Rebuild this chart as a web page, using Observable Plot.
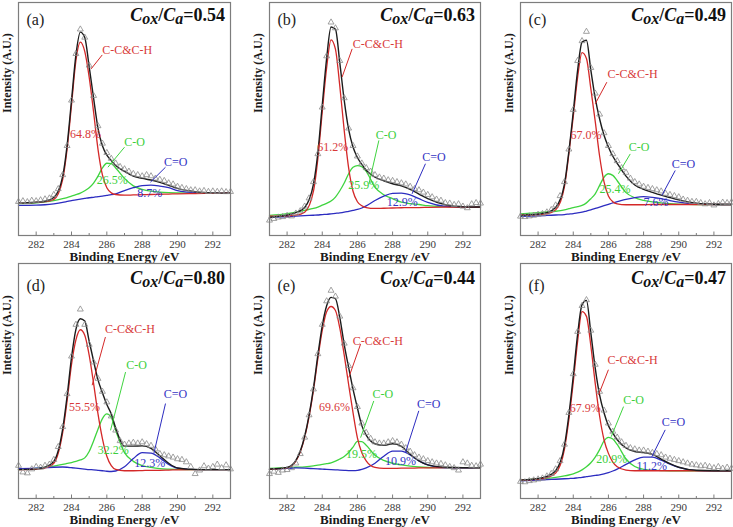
<!DOCTYPE html>
<html>
<head>
<meta charset="utf-8">
<script src="https://cdn.jsdelivr.net/npm/d3@7"></script>
<script src="https://cdn.jsdelivr.net/npm/@observablehq/plot@0.6"></script>
<style>
  html, body { margin: 0; padding: 0; background: #fff; }
  #fig { position: relative; width: 733px; height: 527px; overflow: hidden; background: #fff; }
  #fig > svg { position: absolute; }
</style>
</head>
<body>
<div id="fig"></div>
<script>
// ---------- data (values in % of panel height, energies in eV) ----------
const letters = ["a", "b", "c", "d", "e", "f"];
const ratioValues = ["0.54", "0.63", "0.49", "0.80", "0.44", "0.47"];
const majorTicks = [282, 284, 286, 288, 290, 292];
const minorTicks = [281, 283, 285, 287, 289, 291, 293];

const energies = [281, 282, 282.5, 283, 283.5, 283.75, 284, 284.25, 284.5, 284.75, 285, 285.25, 285.5, 285.75, 286, 286.25, 286.5, 287, 287.5, 288, 288.5, 289, 289.5, 290, 291, 292, 293];
const dataEnergies = [281, 281.25, 281.5, 281.75, 282, 282.25, 282.5, 282.75, 283, 283.25, 283.5, 283.75, 284, 284.25, 284.5, 284.75, 285, 285.25, 285.5, 285.75, 286, 286.25, 286.5, 286.75, 287, 287.25, 287.5, 287.75, 288, 288.25, 288.5, 288.75, 289, 289.25, 289.5, 289.75, 290, 290.25, 290.5, 290.75, 291, 291.25, 291.5, 291.75, 292, 292.25, 292.5, 292.75, 293];

const redA = [14.0,14.2,14.5,15.5,24.0,37.0,56.0,75.0,83.0,79.0,68.0,53.0,37.0,26.0,20.5,18.3,17.6,17.3,17.4,17.5,17.6,17.7,17.8,17.9,18.0,18.1,18.2];
const greenA = [13.7,14.0,14.4,15.0,15.8,16.3,16.9,17.5,18.2,19.2,20.5,22.5,25.5,29.0,31.0,30.8,29.0,24.5,21.3,19.8,19.0,18.6,18.4,18.3,18.2,18.2,18.2];
const blueA = [12.9,13.0,13.2,13.6,14.2,14.6,15.0,15.3,15.6,15.9,16.2,16.4,16.7,16.9,17.2,17.5,17.9,19.3,20.5,21.4,21.6,21.2,20.5,19.3,18.4,18.2,18.2];
const envA = [14.0,14.3,14.7,16.3,25.4,38.6,57.9,77.5,87.3,85.0,72.5,59.0,46.0,38.5,34.5,32.2,30.0,27.5,25.5,24.5,23.8,22.8,21.5,20.2,18.8,18.3,18.2];
const dataA = [14.5,14.8,14.4,15.0,14.8,15.2,15.6,16.0,17.5,20.0,26.0,38.5,58.0,78.0,88.5,85.0,73.0,60.0,47.0,39.5,35.5,33.0,31.0,29.5,28.5,27.5,26.5,26.0,25.5,26.0,25.5,24.5,24.0,23.5,22.5,22.0,21.0,20.5,20.0,19.5,19.5,19.0,19.2,18.8,19.0,18.8,19.0,18.7,18.8];

const redB = [8.3,8.4,8.7,10.0,19.0,33.0,53.0,72.0,84.0,80.0,64.0,45.0,29.0,19.0,14.5,12.8,12.0,11.6,11.7,11.8,11.9,12.0,12.0,12.1,12.2,12.2,12.2];
const greenB = [8.6,9.4,10.0,10.8,11.6,12.2,13.0,13.8,14.8,16.5,19.2,22.5,26.5,29.3,30.0,29.5,27.5,20.7,17.5,15.8,14.3,13.7,13.3,12.8,12.4,12.2,12.2];
const blueB = [7.9,8.1,8.3,8.5,8.7,8.8,9.0,9.1,9.3,9.5,9.7,10.0,10.4,10.8,11.2,11.8,12.7,15.0,16.9,18.1,18.2,17.4,15.8,14.2,12.5,12.2,12.2];
const envB = [7.8,8.8,9.8,12.0,22.0,35.5,56.0,76.0,89.5,88.5,74.0,58.0,45.5,38.0,33.5,30.5,28.0,25.0,23.5,22.2,21.3,19.8,17.8,15.8,13.2,12.3,12.2];
const dataB = [6.5,7.2,7.8,8.0,8.5,8.3,9.5,10.5,12.5,16.0,23.0,35.0,55.0,77.0,91.5,89.0,75.0,59.0,46.0,38.5,34.0,31.0,29.0,27.5,26.0,25.0,24.5,23.8,23.5,23.0,22.5,22.0,21.0,20.0,19.5,18.5,17.5,16.5,15.5,15.0,14.0,13.8,13.2,13.5,12.5,11.8,13.5,14.0,13.8];

const redC = [8.8,9.0,9.3,11.0,21.0,35.0,51.0,68.0,78.5,76.0,63.0,49.0,34.0,23.0,17.0,14.5,13.6,13.2,13.2,13.2,13.3,13.3,13.3,13.3,13.3,13.3,13.3];
const greenC = [9.3,9.8,10.1,10.4,11.0,11.5,12.0,12.4,12.9,14.0,15.8,17.9,21.5,25.0,26.5,25.8,23.5,18.4,16.2,15.1,14.4,14.0,13.7,13.5,13.3,13.3,13.3];
const blueC = [8.2,8.4,8.6,8.8,9.0,9.2,9.4,9.7,10.0,10.5,11.0,11.6,12.2,12.8,13.4,14.0,14.5,15.5,16.3,16.7,16.4,15.8,15.0,14.3,13.5,13.3,13.3];
const envC = [8.6,9.2,9.8,12.0,22.0,36.0,53.0,71.0,83.0,83.8,71.0,59.0,50.0,43.0,38.0,34.0,31.0,25.5,21.7,19.8,18.5,17.3,16.3,15.3,13.9,13.4,13.3];
const dataC = [8.2,8.0,8.3,8.6,9.0,9.3,10.0,11.0,13.0,17.0,23.0,37.0,54.0,75.0,83.5,87.5,72.0,61.0,52.0,44.0,38.5,35.0,32.0,29.0,27.0,24.5,23.0,22.0,21.0,20.5,20.0,19.5,19.0,18.0,17.5,17.0,16.5,15.5,15.0,14.5,14.5,14.0,13.5,14.0,13.0,13.6,14.2,14.0,14.3];

const redD = [12.3,12.5,13.0,15.0,28.0,41.5,57.0,67.5,71.8,69.5,61.0,49.0,36.0,25.5,18.0,14.0,12.4,11.8,11.8,11.9,12.0,12.0,12.1,12.2,12.3,12.3,12.3];
const greenD = [12.3,12.8,13.2,13.8,14.5,14.9,15.3,15.8,16.4,17.3,20.0,24.5,29.5,34.0,36.0,34.5,29.0,19.5,15.8,14.0,13.2,12.7,12.5,12.4,12.3,12.3,12.3];
const blueD = [12.7,12.9,13.1,13.3,13.4,13.3,13.1,12.9,12.7,12.5,12.3,12.2,12.0,11.8,11.6,11.5,11.7,13.5,17.0,19.5,19.3,17.3,14.5,12.9,12.3,12.3,12.3];
const envD = [12.3,12.6,13.3,15.8,29.5,43.5,60.0,72.0,76.5,75.5,67.0,58.5,50.5,45.0,40.0,36.0,30.0,22.3,22.3,22.4,21.3,18.2,15.0,13.0,12.4,12.3,12.3];
const dataD = [14.0,11.2,10.8,12.5,13.5,13.2,14.0,14.5,16.5,22.0,30.5,44.5,60.5,74.0,80.5,74.0,65.5,58.0,51.0,45.5,41.0,35.0,29.0,24.5,23.0,23.5,23.8,23.5,24.0,23.2,22.5,21.0,19.0,18.5,18.0,17.5,16.8,16.5,15.5,13.5,10.5,12.0,13.8,12.8,13.5,14.5,13.0,14.2,12.5];

const redE = [12.4,13.0,15.9,26.0,46.0,59.5,71.5,79.5,81.7,80.0,72.5,61.0,48.5,36.5,25.8,19.5,16.0,13.2,12.8,12.8,12.9,12.9,13.0,13.0,13.1,13.1,13.1];
const greenE = [12.8,13.1,13.3,13.5,13.9,14.2,14.5,14.8,15.2,15.9,16.8,17.9,19.6,21.9,24.3,24.2,22.7,18.4,16.2,15.0,14.3,13.8,13.4,13.2,13.1,13.1,13.1];
const blueE = [12.4,12.8,13.0,12.9,12.7,12.6,12.5,12.4,12.3,12.2,12.1,12.0,11.9,11.9,12.0,12.4,13.0,15.0,18.0,20.2,20.2,18.5,16.0,14.3,13.0,13.0,13.1];
const envE = [12.5,13.2,16.2,26.5,47.0,61.0,73.5,82.0,85.6,85.0,77.0,65.5,55.8,46.5,38.5,31.0,27.0,23.3,22.6,23.3,22.2,18.8,16.0,14.3,13.3,13.1,13.1];
const dataE = [10.5,11.5,11.0,12.0,12.2,13.0,15.0,19.0,26.0,35.5,46.5,61.5,74.0,84.0,88.5,86.0,77.5,66.0,56.5,47.0,39.0,32.0,28.0,25.5,24.0,23.5,23.5,24.0,24.5,24.0,23.0,21.5,20.0,18.5,17.5,16.8,16.0,15.5,15.0,14.8,14.2,13.5,13.0,12.0,15.5,15.0,14.0,13.8,14.5];

const redF = [7.8,8.3,8.9,10.8,21.0,33.5,49.5,67.0,79.5,77.5,65.0,49.0,35.0,25.0,19.2,15.5,13.5,12.1,11.8,11.8,11.8,11.8,11.8,11.8,11.8,11.8,11.8];
const greenF = [7.8,8.3,8.6,9.0,9.6,10.0,10.5,11.2,12.2,13.5,15.2,17.6,20.8,24.5,26.0,25.3,23.0,16.8,13.6,12.4,12.0,11.9,11.8,11.8,11.8,11.8,11.8];
const blueF = [7.5,7.8,8.0,8.2,8.4,8.5,8.6,8.8,9.0,9.3,9.5,9.8,10.1,10.5,11.0,11.7,12.5,14.5,16.4,17.6,17.6,16.3,14.6,13.2,11.9,11.8,11.8];
const envF = [7.8,8.5,9.4,11.8,22.5,35.5,52.0,70.0,82.5,84.3,70.5,55.5,44.0,36.5,31.0,27.8,25.0,21.5,20.0,19.5,18.8,16.8,14.8,13.3,12.0,11.8,11.8];
const dataF = [7.2,7.0,7.5,7.8,8.2,8.6,9.5,10.5,12.5,16.0,23.0,36.5,53.0,71.0,82.0,84.5,71.5,57.0,45.5,37.5,32.0,28.5,26.0,24.0,22.5,21.5,21.0,20.5,20.5,20.0,19.5,19.0,18.5,17.5,17.0,16.5,16.0,15.5,15.0,14.5,14.2,13.8,14.0,13.5,13.0,13.5,12.8,13.2,12.8];

// peak shares
const pctCC = ["64.8%", "61.2%", "67.0%", "55.5%", "69.6%", "67.9%"];
const pctCO = ["26.5%", "25.9%", "25.4%", "32.2%", "19.5%", "20.9%"];
const pctCdO = ["8.7%", "12.9%", "7.6%", "12.3%", "10.9%", "11.2%"];

// annotation anchors (energy, % height)
const ccLabelPos = [[285.74,79.7],[285.74,82.3],[285.95,69.4],[285.89,72.2],[285.74,67.1],[285.95,59.0]];
const coLabelPos = [[287.57,40.0],[287.63,42.9],[287.75,37.9],[287.68,56.7],[287.45,44.4],[287.43,42.0]];
const cdoLabelPos = [[289.90,31.5],[290.35,33.6],[290.27,30.8],[289.89,44.6],[290.06,40.1],[289.70,32.3]];
const pctCCPos = [[284.79,43.6],[284.60,37.9],[284.72,42.9],[284.74,39.0],[284.70,38.7],[284.68,38.4]];
const pctCOPos = [[286.30,23.6],[286.36,21.5],[286.38,20.0],[286.36,20.5],[286.23,18.8],[286.19,16.6]];
const pctCdOPos = [[288.43,18.2],[288.55,14.3],[288.70,14.3],[288.43,14.9],[288.45,15.9],[288.47,13.8]];
const ccLeader = [[285.11,71.5,285.74,77.5],[285.13,68.0,285.70,80.1],[285.25,56.5,285.91,65.8],[285.17,48.2,285.92,68.7],[285.51,51.5,286.18,65.7],[285.44,44.1,286.00,54.8]];
const coLeader = [[286.06,29.3,287.00,37.9],[286.65,22.0,287.22,40.8],[286.57,26.5,287.24,35.0],[286.21,29.0,287.06,53.8],[286.18,25.9,286.93,41.5],[286.16,26.3,286.86,39.1]];
const cdoLeader = [[288.47,22.9,289.32,29.3],[289.11,17.9,289.87,30.8],[289.04,17.2,289.80,27.9],[288.66,19.1,289.32,40.4],[288.73,19.5,289.49,37.3],[288.47,17.8,289.23,29.2]];

const reds = [redA, redB, redC, redD, redE, redF];
const greens = [greenA, greenB, greenC, greenD, greenE, greenF];
const blues = [blueA, blueB, blueC, blueD, blueE, blueF];
const envs = [envA, envB, envC, envD, envE, envF];
const datas = [dataA, dataB, dataC, dataD, dataE, dataF];

// ---------- layout ----------
const boxes = [
  {left: 18, top: 2, right: 230, bottom: 235},
  {left: 269, top: 2, right: 480, bottom: 235},
  {left: 520, top: 2, right: 731, bottom: 235},
  {left: 18, top: 263, right: 230, bottom: 498},
  {left: 269, top: 263, right: 480, bottom: 498},
  {left: 520, top: 263, right: 731, bottom: 498}
];

const RED = "#d42828", GREEN = "#3fd43f", BLUE = "#2c2cc0", BLACK = "#1c1c1c", FRAME = "#7d7d7d", TRI = "#8a8a8a";
const RED_T = "#d83a3a", GREEN_T = "#3ccf3c", BLUE_T = "#3434c4";
const FONT = "Liberation Serif, Times New Roman, serif";

const fig = document.getElementById("fig");

for (let i = 0; i < 6; i++) {
  const b = boxes[i];
  const W = b.right - b.left, H = b.bottom - b.top;
  const mb = 28;
  const row1 = i < 3;
  const curves = energies.map((e, j) => ({e, red: reds[i][j], green: greens[i][j], blue: blues[i][j], env: envs[i][j]}));
  const pts = dataEnergies.map((e, j) => ({e, v: datas[i][j]}));
  const pt = (p, t) => [{x: p[0], y: p[1], t}];
  const ld = (l) => [{x1: l[0], y1: l[1], x2: l[2], y2: l[3]}];
  const txt = {fontFamily: FONT, fontSize: 12, x: "x", y: "y", text: "t"};

  const svg = Plot.plot({
    width: W + 20, height: H + 2 + mb,
    marginLeft: 18, marginRight: 2, marginTop: 2, marginBottom: mb,
    style: {background: "transparent", fontFamily: FONT, overflow: "visible"},
    x: {domain: [281, 293], axis: null},
    y: {domain: [0, 100], axis: null},
    marks: [
      Plot.tickX(majorTicks, {x: d => d, insetTop: H - 3.5, stroke: FRAME, strokeWidth: 1}),
      Plot.tickX(minorTicks, {x: d => d, insetTop: H - 2, stroke: FRAME, strokeWidth: 1}),
      Plot.text(majorTicks, {x: d => d, text: d => String(d), frameAnchor: "bottom", dy: 9, lineAnchor: "middle", fontSize: 11, fontFamily: FONT, fill: "#3a3a3a"}),
      Plot.line(curves, {x: "e", y: "green", stroke: GREEN, strokeWidth: 1.3, curve: "monotone-x"}),
      Plot.line(curves, {x: "e", y: "blue", stroke: BLUE, strokeWidth: 1.3, curve: "monotone-x"}),
      Plot.line(curves, {x: "e", y: "red", stroke: RED, strokeWidth: 1.3, curve: "monotone-x"}),
      Plot.line(curves, {x: "e", y: "env", stroke: BLACK, strokeWidth: 1.4, curve: "monotone-x"}),
      Plot.dot(pts, {x: "e", y: "v", symbol: "triangle", r: 2.2, stroke: TRI, strokeWidth: 0.8, fill: "none"}),
      Plot.frame({stroke: FRAME, strokeWidth: 1.2}),
      // leaders
      Plot.link(ld(ccLeader[i]), {x1: "x1", y1: "y1", x2: "x2", y2: "y2", stroke: RED, strokeWidth: 1}),
      Plot.link(ld(coLeader[i]), {x1: "x1", y1: "y1", x2: "x2", y2: "y2", stroke: GREEN, strokeWidth: 1}),
      Plot.link(ld(cdoLeader[i]), {x1: "x1", y1: "y1", x2: "x2", y2: "y2", stroke: BLUE, strokeWidth: 1}),
      // labels
      Plot.text(pt(ccLabelPos[i], "C-C&C-H"), {...txt, textAnchor: "start", fill: RED_T}),
      Plot.text(pt(pctCCPos[i], pctCC[i]), {...txt, fill: RED_T}),
      Plot.text(pt(coLabelPos[i], "C-O"), {...txt, fill: GREEN_T}),
      Plot.text(pt(pctCOPos[i], pctCO[i]), {...txt, fill: GREEN_T}),
      Plot.text(pt(cdoLabelPos[i], "C=O"), {...txt, fill: BLUE_T}),
      Plot.text(pt(pctCdOPos[i], pctCdO[i]), {...txt, fill: BLUE_T}),
      // panel texts
      Plot.text([`(${letters[i]})`], {frameAnchor: "top-left", dx: 8, dy: row1 ? 17 : 22, textAnchor: "start", lineAnchor: "middle", fontSize: 16, fontFamily: FONT, fill: "#222"}),
      Plot.text(["Intensity (A.U.)"], {frameAnchor: "left", dx: -11, dy: -6, rotate: -90, fontSize: 12, fontWeight: "bold", fontFamily: FONT, fill: "#1a1a1a"}),
      Plot.text(["Binding Energy /eV"], {frameAnchor: "bottom", dy: 21.5, lineAnchor: "middle", fontSize: 13, fontWeight: "bold", fontFamily: FONT, fill: "#1a1a1a"})
    ]
  });

  svg.style.left = (b.left - 18) + "px";
  svg.style.top = (b.top - 2) + "px";

  const t = d3.select(svg).append("text")
    .attr("x", 18 + W - 5).attr("y", 2 + (row1 ? 19 : 21))
    .attr("text-anchor", "end").attr("font-family", FONT)
    .attr("font-size", 18).attr("font-weight", "bold").attr("fill", "#111");
  t.append("tspan").attr("font-style", "italic").text("C");
  t.append("tspan").attr("font-style", "italic").attr("font-size", 16).attr("dy", 3).text("ox");
  t.append("tspan").attr("dy", -3).text("/");
  t.append("tspan").attr("font-style", "italic").text("C");
  t.append("tspan").attr("font-style", "italic").attr("font-size", 16).attr("dy", 3).text("a");
  t.append("tspan").attr("dy", -3).text("=" + ratioValues[i]);

  fig.appendChild(svg);
}
</script>
</body>
</html>
